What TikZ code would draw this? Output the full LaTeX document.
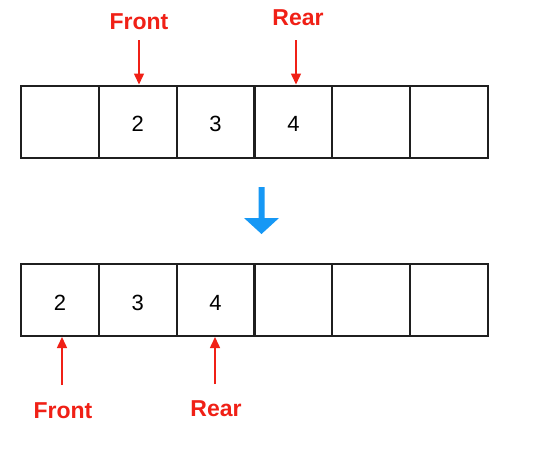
\documentclass[tikz,border=0pt]{standalone}
\usepackage{fontspec}
\setmainfont{Liberation Sans}
\usetikzlibrary{arrows.meta}
\definecolor{qred}{RGB}{240,32,22}
\definecolor{qblue}{RGB}{22,152,245}
\begin{document}
\begin{tikzpicture}[x=1pt,y=-1pt,
  cell/.style={draw=black!88,line width=2pt,minimum width=77.8pt,minimum height=72pt,
    inner sep=0pt,font=\fontsize{22}{24}\selectfont,text height=20pt,text depth=0pt},
  lbl/.style={text=qred,font=\bfseries\fontsize{23}{26}\selectfont,inner sep=0pt,anchor=base},
  ptr/.style={draw=qred,line width=1.5pt,-{Triangle[width=10pt,length=11pt]}}]
\fill[white] (0,0) rectangle (546,455);
\useasboundingbox (0,0) rectangle (546,455);
% top row
\foreach \i/\t in {1/,2/2,3/3,4/4,5/,6/}
  \node[cell] (t\i) at ({21+77.83*(\i-0.5)},121.5) {\t};
% bottom row
\foreach \i/\t in {1/2,2/3,3/4,4/,5/,6/}
  \node[cell] (b\i) at ({21+77.83*(\i-0.5)},300) {\t};
% top labels and pointers
\node[lbl] (ft) at (139,29) {Front};
\node[lbl] (rt) at (298,25) {Rear};
\coordinate (fa) at (139,40);
\coordinate (ra) at (296,40);
\draw[ptr] (fa) -- (fa |- t2.north);
\draw[ptr] (ra) -- (ra |- t4.north);
% bottom labels and pointers
\node[lbl] (fb) at (63,418) {Front};
\node[lbl] (rb) at (216,416) {Rear};
\coordinate (fba) at (62,385);
\coordinate (rba) at (215,384);
\draw[ptr] (fba) -- (fba |- b1.south);
\draw[ptr] (rba) -- (rba |- b3.south);
% blue transition arrow
\fill[qblue] (258.5,187) -- (264.5,187) -- (264.5,218) -- (279,218) -- (261.5,234)
  -- (244,218) -- (258.5,218) -- cycle;
\end{tikzpicture}
\end{document}
